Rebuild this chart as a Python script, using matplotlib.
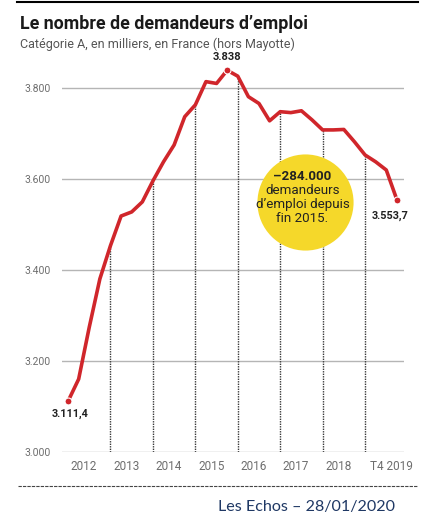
import matplotlib
matplotlib.use('Agg')
import matplotlib.pyplot as plt

# Data: quarterly, Q1 2012 -> Q4 2019 (thousands)
values = [3111.4, 3160, 3274, 3380, 3453, 3518, 3527, 3549,
          3595, 3637, 3674, 3736, 3762, 3813, 3809, 3838,
          3825, 3780, 3765, 3727, 3747, 3745, 3749, 3729,
          3707, 3707, 3708, 3681, 3652, 3637, 3619, 3553.7]
year_labels = ['2012', '2013', '2014', '2015', '2016', '2017', '2018', 'T4 2019']
yticks = [3000, 3200, 3400, 3600, 3800]
ytick_labels = ['3.000', '3.200', '3.400', '3.600', '3.800']
boundaries = [4, 8, 12, 16, 20, 24, 28]
first_lbl, peak_lbl, last_lbl = '3.111,4', '3.838', '3.553,7'

plt.rcParams['font.family'] = ['Roboto', 'DejaVu Sans']
W, H = 424, 519
fig = plt.figure(figsize=(W / 100, H / 100), dpi=100)

red = '#d0262b'
grey = '#6e6e6e'

# axes: x data -0.57..31.67 over px 62..404 ; y 3000 at px 452, 3900 at px 42
ax = fig.add_axes([62 / W, 1 - 452 / H, (404 - 62) / W, (452 - 42) / H])
ax.set_xlim(-0.57, 31.67)
ax.set_ylim(3000, 3900)
for s in ax.spines.values():
    s.set_visible(False)

for y in yticks:
    ax.axhline(y, color='#b5b5b5', lw=1, zorder=1)

for b in boundaries:
    ax.plot([b, b], [3000, values[b]], color='#3a3a3a', lw=1, ls=(0, (1, 0.8)), zorder=2)

x = list(range(len(values)))
ax.plot(x, values, color=red, lw=2.6, zorder=4, solid_joinstyle='round')
for i in [0, 15, len(values) - 1]:
    ax.plot(i, values[i], 'o', color=red, ms=5, zorder=5, mec='white', mew=0.8)

ax.set_yticks(yticks)
ax.set_yticklabels(ytick_labels, color=grey, fontsize=7.5)
ax.tick_params(axis='y', length=0, pad=8)
ax.set_xticks([1.5 + 4 * k for k in range(7)] + [30.5])
ax.set_xticklabels(year_labels, color=grey, fontsize=8.5)
ax.tick_params(axis='x', length=0, pad=6)

# annotations
ax.text(15, 3868, peak_lbl, ha='center', va='center', fontsize=8, fontweight='bold', color='#222222')
ax.text(0.2, 3083, first_lbl, ha='center', va='center', fontsize=7.8, fontweight='bold', color='#222222')
ax.text(30.4, 3518, last_lbl, ha='center', va='center', fontsize=7.8, fontweight='bold', color='#222222')

# yellow bubble
ax.scatter([22.3], [3549], s=96 ** 2 * 0.52, color='#f5d82a', zorder=6, linewidths=0)
bubble_lines = ['\u2013284.000', 'demandeurs', "d\u2019emploi depuis", 'fin 2015.']
for k, t in enumerate(bubble_lines):
    ax.text(22.1, 3604 - k * 30.5, t, ha='center', va='center', fontsize=9.6,
            fontweight='bold' if k == 0 else 'normal', color='#222222', zorder=7)

# header
fig.add_artist(plt.Line2D([17 / W, 418 / W], [1 - 2 / H, 1 - 2 / H], color='black', lw=1.5))
fig.text(20 / W, 1 - 24 / H, "Le nombre de demandeurs d\u2019emploi", fontsize=12.8,
         fontweight='bold', color='#1a1a1a', va='center', ha='left')
fig.text(20 / W, 1 - 44 / H, 'Cat\u00e9gorie A, en milliers, en France (hors Mayotte)', fontsize=9,
         color='#555555', va='center', ha='left')

# footer
fig.add_artist(plt.Line2D([18 / W, 418 / W], [1 - 486 / H, 1 - 486 / H], color='#444444', lw=0.8,
                          ls=(0, (3, 1))))
fig.text(306 / W, 1 - 507 / H, 'Les Echos \u2013 28/01/2020', fontsize=11.6, color='#1f3864',
         va='center', ha='center', family='Lato')

fig.savefig('out.png', dpi=100)
